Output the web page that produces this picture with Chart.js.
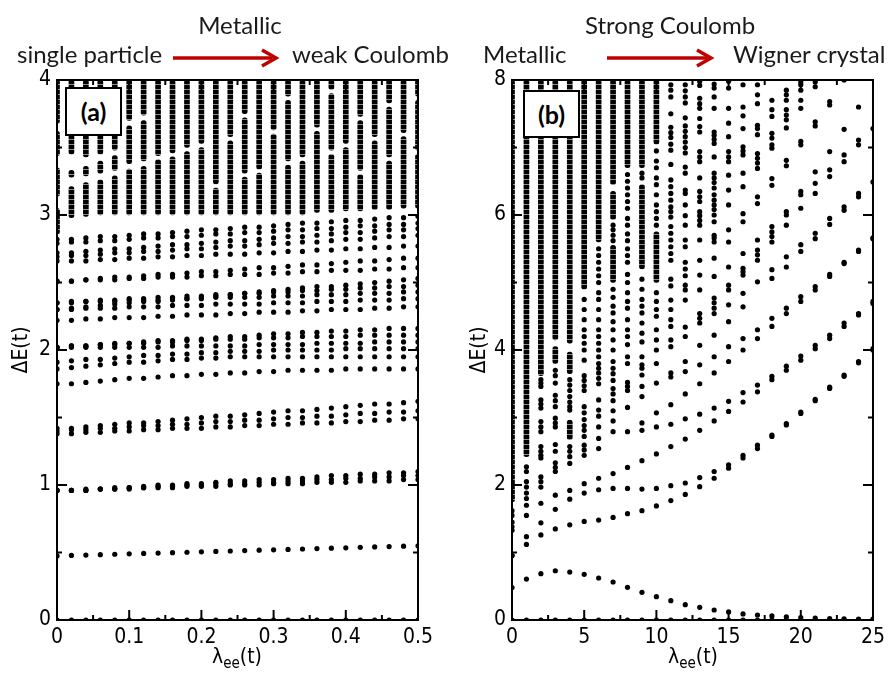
<!DOCTYPE html>
<html>
<head>
<meta charset="utf-8">
<script src="https://cdn.jsdelivr.net/npm/chart.js@4.4.1/dist/chart.umd.min.js"></script>
<style>
body{margin:0;background:#fff;width:890px;height:677px;overflow:hidden;position:relative;font-family:Lato,sans-serif}
.pane{position:absolute;top:0;width:445px;height:677px}
.note{position:absolute;font-size:24px;line-height:24px;white-space:nowrap;color:#1a1a1a}
.mid{transform:translateX(-50%)}
.tag{position:absolute;background:#fff;border:2px solid #000;box-sizing:border-box;font:700 25px Lato,sans-serif;line-height:44px;text-align:center;z-index:2}
.xt{position:absolute;top:644px;font:21px 'Liberation Sans Narrow','DejaVu Sans Condensed',sans-serif;transform:translateX(-50%);white-space:nowrap}
.xt sub{font-size:15px;vertical-align:-5px;line-height:0}
svg{position:absolute;left:0;top:0}
</style>
</head>
<body>
<div class="pane" style="left:0"><canvas id="chartA" width="445" height="677"></canvas></div>
<div class="pane" style="left:445px"><canvas id="chartB" width="445" height="677"></canvas></div>

<div class="note mid" style="left:240px;top:13px">Metallic</div>
<div class="note" style="left:17px;top:42px">single particle</div>
<div class="note" style="left:292px;top:42px">weak Coulomb</div>
<div class="note mid" style="left:670px;top:13px">Strong Coulomb</div>
<div class="note" style="left:483px;top:42px">Metallic</div>
<div class="note" style="left:733px;top:42px">Wigner crystal</div>
<svg width="890" height="100">
  <g stroke="#c00000" stroke-width="3.5" fill="none">
    <line x1="173" y1="58" x2="272" y2="58"/>
    <polyline points="262,50 276,58 262,66"/>
    <line x1="607" y1="58" x2="707" y2="58"/>
    <polyline points="697,50 711,58 697,66"/>
  </g>
</svg>
<div class="tag" style="left:65px;top:87px;width:57px;height:49px">(a)</div>
<div class="tag" style="left:523px;top:90px;width:57px;height:48px">(b)</div>
<div class="xt" style="left:237px">λ<sub>ee</sub>(t)</div>
<div class="xt" style="left:693px">λ<sub>ee</sub>(t)</div>

<script>
// ---- panel (a): lambda_ee 0..0.5, levels read column by column ----
const xA = [0,0.02,0.04,0.06,0.08,0.1,0.12,0.14,0.16,0.18,0.2,0.22,0.24,0.26,0.28,0.3,0.32,0.34,0.36,0.38,0.4,0.42,0.44,0.46,0.48,0.5];

const groundA = [0,0,0,0,0,0,0,0,0,0,0,0,0,0,0,0,0,0,0,0,0,0,0,0,0,0];
const a05  = [0.475,0.478,0.481,0.484,0.487,0.49,0.493,0.496,0.499,0.502,0.505,0.508,0.511,0.514,0.517,0.52,0.523,0.526,0.529,0.532,0.535,0.538,0.541,0.544,0.547,0.55];
const a10a = [0.96,0.96,0.96,0.97,0.97,0.97,0.98,0.98,0.98,0.99,0.99,0.99,1.0,1.0,1.0,1.01,1.01,1.01,1.02,1.02,1.02,1.03,1.03,1.03,1.04,1.04];
const a10b = [0.96,0.96,0.96,0.97,0.97,0.98,0.98,0.99,0.99,1.0,1.0,1.01,1.01,1.01,1.02,1.02,1.03,1.03,1.04,1.04,1.05,1.05,1.06,1.06,1.07,1.07];
const a10c = [0.96,0.96,0.97,0.97,0.98,0.98,0.99,1.0,1.0,1.01,1.01,1.02,1.03,1.03,1.04,1.04,1.05,1.05,1.06,1.07,1.07,1.08,1.08,1.09,1.09,1.10];
const a14a = [1.38,1.38,1.39,1.39,1.40,1.40,1.41,1.41,1.42,1.42,1.42,1.43,1.43,1.44,1.44,1.45,1.45,1.46,1.46,1.46,1.47,1.47,1.48,1.48,1.49,1.49];
const a14b = [1.40,1.41,1.41,1.42,1.42,1.43,1.44,1.44,1.45,1.45,1.46,1.47,1.47,1.48,1.48,1.49,1.50,1.50,1.51,1.51,1.52,1.53,1.53,1.54,1.54,1.55];
const a14c = [1.42,1.42,1.43,1.44,1.45,1.46,1.46,1.47,1.48,1.49,1.50,1.51,1.51,1.52,1.53,1.54,1.55,1.55,1.56,1.57,1.58,1.59,1.60,1.60,1.61,1.62];
const a18a = [1.75,1.75,1.76,1.77,1.78,1.79,1.79,1.80,1.81,1.81,1.82,1.82,1.83,1.83,1.84,1.84,1.85,1.85,1.85,1.85,1.86,1.86,1.86,1.86,1.86,1.86];
const a18b = [1.86,1.87,1.88,1.89,1.90,1.91,1.91,1.92,1.93,1.93,1.94,1.94,1.95,1.95,1.95,1.95,1.95,1.95,1.95,1.95,1.95,1.95,1.95,1.95,1.95,1.95];
const a18c = [1.91,1.92,1.93,1.93,1.94,1.95,1.96,1.96,1.97,1.97,1.98,1.98,1.99,1.99,1.99,2.0,2.0,2.0,2.0,2.0,2.01,2.01,2.01,2.01,2.01,2.01];
const a18d = [2.02,2.02,2.02,2.02,2.02,2.02,2.02,2.02,2.03,2.03,2.03,2.03,2.03,2.03,2.04,2.04,2.04,2.04,2.05,2.05,2.05,2.05,2.06,2.06,2.06,2.06];
const a18e = [2.02,2.03,2.03,2.04,2.04,2.05,2.05,2.06,2.06,2.07,2.07,2.08,2.08,2.08,2.09,2.09,2.09,2.10,2.10,2.10,2.10,2.11,2.11,2.11,2.11,2.11];
const a18f = [2.02,2.03,2.03,2.04,2.05,2.05,2.06,2.07,2.07,2.08,2.08,2.09,2.10,2.10,2.11,2.12,2.12,2.13,2.13,2.14,2.14,2.15,2.15,2.16,2.16,2.16];
const a23a = [2.22,2.22,2.23,2.23,2.24,2.24,2.24,2.25,2.25,2.26,2.26,2.26,2.27,2.27,2.28,2.28,2.28,2.29,2.29,2.30,2.30,2.30,2.31,2.31,2.32,2.32];
const a23b = [2.30,2.30,2.31,2.31,2.31,2.32,2.32,2.32,2.33,2.33,2.33,2.34,2.34,2.34,2.34,2.35,2.35,2.35,2.36,2.36,2.36,2.37,2.37,2.37,2.38,2.38];
const a23c = [2.35,2.35,2.36,2.36,2.36,2.37,2.37,2.37,2.38,2.38,2.38,2.39,2.39,2.39,2.39,2.40,2.40,2.40,2.41,2.41,2.41,2.42,2.42,2.42,2.43,2.43];
const a23d = [2.35,2.36,2.36,2.37,2.37,2.38,2.38,2.39,2.39,2.40,2.40,2.41,2.41,2.42,2.42,2.43,2.43,2.44,2.44,2.45,2.45,2.46,2.46,2.47,2.47,2.48];
const a23e = [2.30,2.31,2.32,2.33,2.34,2.35,2.36,2.36,2.37,2.38,2.39,2.40,2.41,2.42,2.43,2.44,2.45,2.46,2.47,2.47,2.48,2.49,2.50,2.51,2.52,2.53];
const a25a = [2.51,2.51,2.52,2.52,2.52,2.53,2.53,2.54,2.54,2.54,2.55,2.55,2.56,2.56,2.56,2.57,2.57,2.58,2.58,2.59,2.59,2.59,2.60,2.60,2.61,2.61];
const a25b = [2.51,2.51,2.52,2.53,2.54,2.54,2.55,2.56,2.56,2.57,2.58,2.58,2.59,2.60,2.61,2.61,2.62,2.63,2.63,2.64,2.65,2.66,2.66,2.67,2.68,2.68];
const a27a = [2.66,2.66,2.66,2.67,2.67,2.68,2.68,2.69,2.69,2.70,2.70,2.71,2.71,2.71,2.72,2.72,2.73,2.73,2.74,2.74,2.75,2.75,2.76,2.76,2.77,2.77];
const a27b = [2.69,2.70,2.70,2.71,2.72,2.72,2.73,2.73,2.74,2.75,2.75,2.76,2.77,2.77,2.78,2.79,2.79,2.80,2.80,2.81,2.82,2.82,2.83,2.84,2.84,2.85];
const a27c = [2.72,2.72,2.73,2.74,2.75,2.75,2.76,2.77,2.78,2.78,2.79,2.80,2.81,2.81,2.82,2.83,2.84,2.84,2.85,2.86,2.87,2.87,2.88,2.89,2.89,2.90];
const a28a = [2.79,2.80,2.80,2.81,2.81,2.82,2.83,2.83,2.84,2.84,2.85,2.86,2.86,2.87,2.87,2.88,2.89,2.89,2.90,2.90,2.91,2.92,2.92,2.93,2.93,2.94];
const a28b = [2.82,2.82,2.83,2.84,2.84,2.85,2.86,2.86,2.87,2.88,2.89,2.89,2.90,2.91,2.91,2.92,2.93,2.94,2.94,2.95,2.96,2.96,2.97,2.98,2.98,2.99];

// dense part above ~3: runs of overlapping dots per column [from, to]
const topRunsA = [
  [[2.86,3.05],[3.14,3.35],[3.44,3.62],[3.68,4]],
  [[2.98,3.21],[3.28,3.33],[3.45,4]],
  [[2.99,3.24],[3.29,3.36],[3.43,4]],
  [[3.0,3.26],[3.31,3.4],[3.45,4]],
  [[3.0,3.29],[3.33,3.44],[3.48,4]],
  [[3.0,3.34],[3.38,3.66],[3.7,4]],
  [[3.0,3.36],[3.4,3.7],[3.74,4]],
  [[3.0,3.41],[3.44,4]],
  [[3.0,3.43],[3.46,4]],
  [[3.0,3.47],[3.5,4]],
  [[3.0,3.5],[3.53,4]],
  [[3.0,3.2],[3.23,4]],
  [[3.0,3.55],[3.58,4]],
  [[3.0,3.28],[3.31,3.72],[3.75,4]],
  [[3.0,3.31],[3.34,4]],
  [[3.0,3.6],[3.63,4]],
  [[3.0,3.37],[3.4,3.85],[3.88,4]],
  [[3.0,3.4],[3.43,4]],
  [[3.02,3.62],[3.65,4]],
  [[3.02,3.45],[3.48,3.9],[3.93,4]],
  [[3.03,3.5],[3.53,4]],
  [[3.03,3.3],[3.33,3.7],[3.73,4]],
  [[3.04,3.55],[3.58,4]],
  [[3.04,3.4],[3.43,3.8],[3.83,4]],
  [[3.05,3.58],[3.61,4]],
  [[3.05,3.45],[3.48,3.85],[3.88,4]]
];

// ---- panel (b): lambda_ee 0..25 ----
const xB = [0,1,2,3,4,5,6,7,8,9,10,11,12,13,14,15,16,17,18,19,20,21,22,23,24,25];

const groundB = [0,0,0,0,0,0,0,0,0,0,0,0,0,0,0,0,0,0,0,0,0,0,0,0,0,0];
const humpB = [0.48,0.607,0.686,0.73,0.71,0.677,0.622,0.563,0.484,0.41,0.345,0.286,0.227,0.188,0.148,0.12,0.09,0.074,0.06,0.045,0.035,0.028,0.022,0.018,0.015,0.012];
const riseB1 = [0.955,1.12,1.26,1.35,1.41,1.46,1.48,1.52,1.575,1.62,1.69,1.77,1.86,1.975,2.10,2.25,2.40,2.54,2.72,2.89,3.06,3.25,3.43,3.61,3.81,4.0];
const riseB2 = [0.955,1.235,1.44,1.64,1.79,1.88,1.93,1.95,1.95,1.94,1.95,1.99,2.03,2.11,2.20,2.30,2.44,2.59,2.74,2.91,3.08,3.27,3.45,3.63,3.83,4.02];
const riseB3 = [1.38,1.55,1.73,1.85,1.92,2.02,2.10,2.17,2.26,2.36,2.46,2.57,2.68,2.81,2.95,3.09,3.23,3.38,3.56,3.70,3.85,4.02,4.17,4.35,4.52,4.69];
const riseB4 = [null,null,null,null,null,null,null,2.79,2.79,2.81,2.86,2.90,2.98,3.05,3.14,3.24,3.37,3.48,3.61,3.76,3.91,4.07,4.22,4.40,4.54,4.72];
const riseB5 = [null,null,null,null,null,null,null,null,null,2.92,3.07,3.19,3.35,3.50,3.66,3.83,4.0,4.17,4.35,4.54,4.72,4.89,5.09,5.28,5.46,5.65];
const riseB6 = [null,null,null,null,null,null,null,null,null,3.46,3.51,3.60,3.68,3.78,3.90,4.05,4.17,4.30,4.47,4.62,4.79,4.94,5.12,5.30,5.48,5.66];

// remaining separate dots, one list per column
const dotsB = [
  [1.33,1.45,1.55,1.62],
  [1.70,1.80,1.88,1.97,2.05,2.20,2.27],
  [1.97,2.05,2.12,2.40,2.44,2.50,2.57,2.79,2.86,2.94,3.14,3.20,3.26,3.46,3.51,3.56],
  [2.20,2.26,2.33,2.50,2.60,2.86,2.92,2.99,3.16,3.25,3.33,3.51,3.62,3.70],
  [2.32,2.42,2.50,2.57,3.11,3.16,3.23,3.31,3.40,3.48,3.56],
  [2.44,2.52,2.59,2.72,2.81,2.88,2.97,3.07,3.16,3.40,3.47,3.55,3.62,3.85,4.00,4.10,4.20,4.30,4.45,4.60,4.75],
  [2.54,2.69,2.86,3.02,3.11,3.26,3.50,3.58,3.66,3.73,3.80,3.90,4.00,4.10,4.20,4.30,4.45,4.60,4.75,4.85,5.00,5.10,5.20,5.30,5.40,5.50],
  [2.95,3.10,3.25,3.35,3.43,3.55,3.65,3.73,3.83,4.00,4.15,4.30,4.42,4.55,4.65,4.78,4.90,5.62,5.70,5.78,5.85],
  [3.15,3.40,3.46,3.52,3.80,3.90,4.08,4.20,4.30,4.45,4.62,4.72,4.85,5.00,5.12,5.30,5.40,5.50,5.62,5.72,5.85,5.95,6.10,6.20,6.30,6.40,6.50,6.60],
  [3.31,3.63,3.73,3.78,3.90,4.12,4.25,4.40,4.55,4.65,4.75,4.90,5.05,6.55,6.62],
  [3.80,4.00,4.15,4.30,4.50,4.60,4.72,4.85,5.85,5.95,6.05,6.15,6.30,6.45,6.55,6.70,6.80,6.95],
  [3.66,4.05,4.15,4.35,4.45,4.60,4.74,4.95,5.05,5.33,5.43,5.53,5.63,5.73,5.83,5.97,6.05,6.12,6.22,6.32,6.42,6.52,6.75,6.96,7.05,7.15,7.22,7.30,7.50,7.75,7.85,7.93],
  [3.83,4.20,4.34,4.74,4.89,4.96,5.10,5.20,5.30,5.53,5.63,5.85,5.99,6.15,6.32,6.37,6.62,6.71,6.92,7.00,7.08,7.16,7.24,7.32,7.44,7.66,7.75,7.84,7.93],
  [4.07,4.40,4.47,4.54,4.89,5.11,5.33,5.63,5.85,5.92,5.99,6.05,6.20,6.27,6.35,6.55,6.79,6.86,6.94,7.23,7.31,7.43,7.58,7.65,7.73,7.92,7.98],
  [4.22,4.54,4.62,4.70,4.77,5.09,5.36,5.60,5.66,5.70,5.90,6.00,6.08,6.15,6.22,6.30,6.40,6.48,6.55,6.62,6.86,7.06,7.12,7.18,7.23,7.58,7.75,7.88,7.94],
  [4.42,4.67,4.89,4.96,5.23,5.60,5.78,6.15,6.37,6.59,6.79,6.86,6.94,7.16,7.36,7.58,7.88,7.98],
  [4.64,4.84,5.11,5.16,5.21,5.43,5.90,6.02,6.42,6.62,6.89,6.95,7.01,7.28,7.47,7.60,7.93],
  [5.01,5.33,5.41,5.48,5.63,6.17,6.27,6.69,6.77,6.84,6.91,7.19,7.28,7.33,7.65,7.78,7.93],
  [5.06,5.19,5.60,5.68,5.75,5.83,6.44,6.54,6.99,7.04,7.14,7.21,7.46,7.56,7.70],
  [5.23,5.38,5.85,6.00,6.05,6.73,6.81,7.29,7.41,7.48,7.56,7.70,7.78,7.85],
  [5.46,5.56,6.10,6.30,6.35,7.04,7.09,7.58,7.70,7.85,7.93,7.97],
  [5.65,5.73,6.32,6.47,6.64,7.32,7.38,7.90,7.97],
  [5.86,5.95,6.57,6.67,6.94,7.63,7.68],
  [6.07,6.12,6.79,6.89,7.27,8.00],
  [6.27,6.32,7.04,7.11,7.60],
  [6.49,7.28]
];

// solid stacks of overlapping dots, per column [from, to]
const runsB = [
  [[1.75,8]],
  [[2.42,8]],
  [[3.62,8]],
  [[3.80,4.05],[4.15,8]],
  [[2.67,2.96],[3.65,3.97],[4.10,8]],
  [[4.90,8]],
  [[5.60,8]],
  [[5.00,5.55],[5.93,6.35],[6.45,8]],
  [[6.70,8]],
  [[5.20,6.45],[6.70,8]],
  [[5.00,5.75],[7.05,8]],
  [],[],[],[],[],[],[],[],[],[],[],[],[],[],[]
];

const tickFont = {family: "'Liberation Sans Narrow','DejaVu Sans Condensed',sans-serif", size: 21};

function levelPoints(xs, levels) {
  const pts = [];
  levels.forEach(lv => lv.forEach((y, i) => {
    if (y !== null && xs[i] !== undefined) pts.push({x: xs[i], y: y});
  }));
  return pts;
}
function columnPoints(xs, cols) {
  const pts = [];
  cols.forEach((list, i) => list.forEach(y => pts.push({x: xs[i], y: y})));
  return pts;
}
function columnRuns(xs, cols) {
  const bars = [];
  cols.forEach((list, i) => list.forEach(r => bars.push({x: xs[i], y: [r[0], r[1]]})));
  return bars;
}

// stacked dots: a thin vertical "bead" texture so runs read as chains of dots
function beadFill() {
  const c = document.createElement('canvas');
  c.width = 1; c.height = 5;
  const g = c.getContext('2d');
  g.fillStyle = '#000';
  g.fillRect(0, 0, 1, 4);
  g.fillStyle = 'rgba(0,0,0,0.45)';
  g.fillRect(0, 4, 1, 1);
  return g.createPattern(c, 'repeat');
}

// frame on all four sides plus inward ticks (major + midway minor)
const frameTicks = {
  id: 'frameTicks',
  afterDatasetsDraw(chart) {
    const {ctx, chartArea: a, scales: {x, y}} = chart;
    ctx.save();
    ctx.strokeStyle = '#000';
    ctx.lineWidth = 2;
    const seg = (x1, y1, x2, y2) => { ctx.beginPath(); ctx.moveTo(x1, y1); ctx.lineTo(x2, y2); ctx.stroke(); };
    const marks = sc => {
      const v = sc.ticks.map(t => t.value);
      const out = [];
      v.forEach((t, i) => { out.push([t, 10]); if (i < v.length - 1) out.push([(t + v[i + 1]) / 2, 5]); });
      return out;
    };
    marks(x).forEach(([v, len]) => {
      const px = x.getPixelForValue(v);
      seg(px, a.bottom, px, a.bottom - len);
      seg(px, a.top, px, a.top + len);
    });
    marks(y).forEach(([v, len]) => {
      const py = y.getPixelForValue(v);
      seg(a.left, py, a.left + len, py);
      seg(a.right, py, a.right - len, py);
    });
    ctx.strokeRect(a.left, a.top, a.right - a.left, a.bottom - a.top);
    ctx.restore();
  }
};

function makePanel(id, cfg) {
  return new Chart(document.getElementById(id), {
    type: 'scatter',
    data: {
      datasets: [
        {type: 'bar', data: cfg.runs, backgroundColor: beadFill(), barThickness: 5,
         borderRadius: 2.5, borderSkipped: false},
        {data: cfg.dots, backgroundColor: '#000', borderWidth: 0, pointRadius: 2.6, pointHoverRadius: 2.6}
      ]
    },
    options: {
      responsive: false,
      animation: false,
      events: [],
      devicePixelRatio: 1,
      layout: {padding: {top: 80, right: cfg.padRight, left: 0, bottom: 0}},
      plugins: {legend: {display: false}, tooltip: {enabled: false}},
      scales: {
        x: {
          type: 'linear', min: 0, max: cfg.xMax, offset: false,
          grid: {display: false, drawTicks: false, offset: false},
          border: {display: false},
          ticks: {stepSize: cfg.xStep, padding: 5, color: '#000', font: tickFont, autoSkip: false, maxRotation: 0,
                  callback: v => String(Number(v.toFixed(2)))},
          afterFit: s => { s.height = 57; }
        },
        y: {
          type: 'linear', min: 0, max: cfg.yMax,
          grid: {display: false, drawTicks: false},
          border: {display: false},
          ticks: {stepSize: cfg.yStep, padding: 6, color: '#000', font: tickFont},
          title: {display: true, text: 'ΔE(t)', color: '#000', font: tickFont, padding: {top: cfg.titlePad, bottom: 0}},
          afterFit: s => { s.width = cfg.yWidth; }
        }
      }
    },
    plugins: [frameTicks]
  });
}

makePanel('chartA', {
  dots: levelPoints(xA, [groundA, a05, a10a, a10b, a10c, a14a, a14b, a14c,
                         a18a, a18b, a18c, a18d, a18e, a18f, a23a, a23b, a23c, a23d, a23e,
                         a25a, a25b, a27a, a27b, a27c, a28a, a28b]),
  runs: columnRuns(xA, topRunsA),
  xMax: 0.5, xStep: 0.1, yMax: 4, yStep: 1,
  yWidth: 57, padRight: 27, titlePad: 9
});

makePanel('chartB', {
  dots: levelPoints(xB, [groundB, humpB, riseB1, riseB2, riseB3, riseB4, riseB5, riseB6])
          .concat(columnPoints(xB, dotsB)),
  runs: columnRuns(xB, runsB),
  xMax: 25, xStep: 5, yMax: 8, yStep: 2,
  yWidth: 67, padRight: 16, titlePad: 22
});
</script>
</body>
</html>
